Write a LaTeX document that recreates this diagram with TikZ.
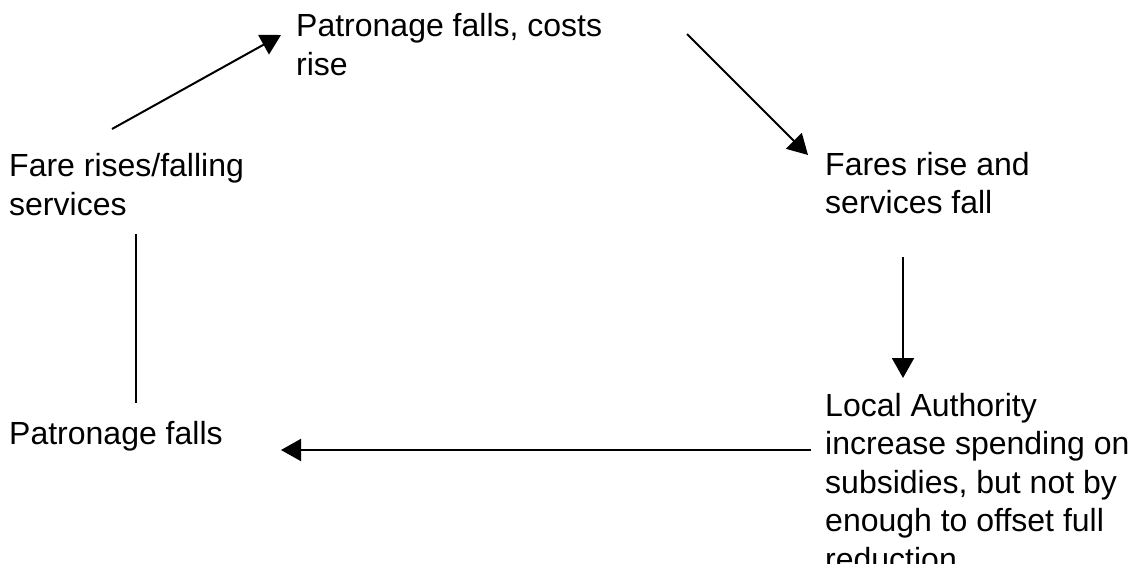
\documentclass[tikz,border=0pt]{standalone}
\usepackage{fontspec}
\setmainfont{Liberation Sans}
\usetikzlibrary{arrows.meta}
\begin{document}
\begin{tikzpicture}[x=1pt,y=-1pt,
  lbl/.style={anchor=base west,inner sep=0pt,align=left,
    font=\fontsize{32}{38.5}\selectfont},
  conn/.style={line width=2pt},
  arr/.style={conn,-{Triangle[length=20pt,width=22pt]}}]
\useasboundingbox[fill=white] (0,0) rectangle (1135,564);
% base anchor = baseline of the last line
\node[lbl] (top) at (296,75.5) {Patronage falls, costs\\rise};
\node[lbl] (fare) at (9,215) {Fare rises/falling\\services};
\node[lbl] (fares) at (825,214) {Fares rise and\\services fall};
\node[lbl] (patr) at (9,444) {Patronage falls};
\node[lbl] (local) at (825,570) {Local Authority\\increase spending on\\subsidies, but not by\\enough to offset full\\reduction};
\coordinate (a1s) at (112,129);
\coordinate (a1e) at (281,35);
\coordinate (a2s) at (687,34);
\coordinate (a2e) at (808,155);
\coordinate (a3s) at (903,257);
\coordinate (a3e) at (903,378);
\coordinate (a4s) at (811,450);
\coordinate (a4e) at (281,450);
\coordinate (l1s) at (136,234);
\coordinate (l1e) at (136,403);
\draw[arr] (a1s) -- (a1e);
\draw[arr] (a2s) -- (a2e);
\draw[arr] (a3s) -- (a3e);
\draw[arr] (a4s) -- (a4e);
\draw[conn] (l1s) -- (l1e);
\end{tikzpicture}
\end{document}
